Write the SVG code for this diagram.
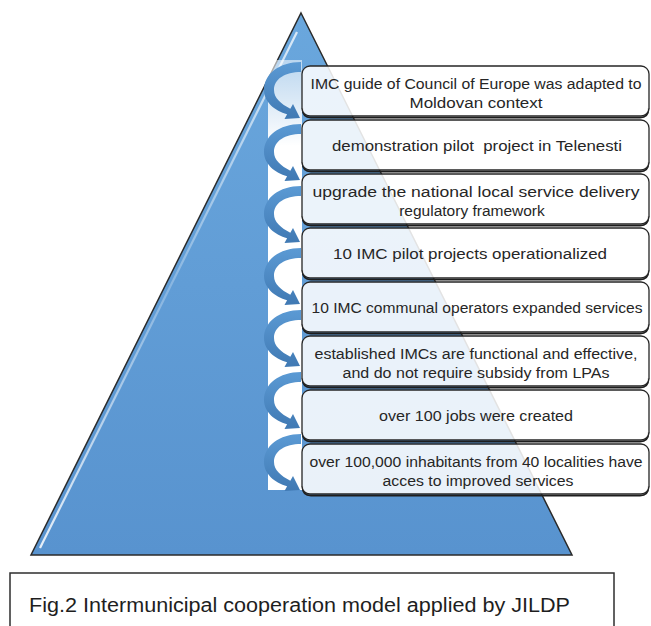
<svg xmlns="http://www.w3.org/2000/svg" width="651" height="626" viewBox="0 0 651 626">
  <defs>
    <style>
      .pyr { stroke: #2b2b2b; stroke-width: 1.5; stroke-linejoin: miter; }
      .box { fill: #ffffff; fill-opacity: 0.87; stroke: #262626; stroke-width: 1.3; }
      .shade { fill: none; stroke: #1e1e1e; stroke-width: 1.8; }
      .t { font-family: "Liberation Sans", Arial, sans-serif; font-size: 15.5px; fill: #262626; text-anchor: middle; }
      .cap { font-family: "Liberation Sans", Arial, sans-serif; font-size: 19.5px; fill: #1e1e1e; }
      .arc { fill: url(#arcFill); }
    </style>
    <linearGradient id="pyrFill" x1="0" y1="0" x2="0" y2="1">
      <stop offset="0" stop-color="#6aa7dd"/>
      <stop offset="1" stop-color="#5893cf"/>
    </linearGradient>
    <linearGradient id="hiLine" x1="0" y1="0" x2="0" y2="1">
      <stop offset="0" stop-color="#ffffff" stop-opacity="0.75"/>
      <stop offset="0.5" stop-color="#ffffff" stop-opacity="0.25"/>
      <stop offset="1" stop-color="#ffffff" stop-opacity="0.85"/>
    </linearGradient>
    <linearGradient id="strip" x1="0" y1="0" x2="0" y2="1">
      <stop offset="0" stop-color="#ffffff" stop-opacity="0.55"/>
      <stop offset="0.2" stop-color="#ffffff" stop-opacity="1"/>
      <stop offset="1" stop-color="#ffffff" stop-opacity="1"/>
    </linearGradient>
    <linearGradient id="arcFill" x1="0" y1="0" x2="0" y2="1">
      <stop offset="0" stop-color="#5b9ad4"/>
      <stop offset="1" stop-color="#4079b3"/>
    </linearGradient>
    <!-- curved arrow: band sweeps left from the top and returns right with a head -->
    <path id="arrowArc" class="arc" d="M301,0 C279,0 264,12 264,28 C264,40 275,49 287.1,52.3 L284.5,56.9 L300,56 L293,42.1 L290.3,46.7 C281,42 274,36 274,28 C274,17 285,10 301,10 Z"/>
    <!-- darker lower edge of each list box -->
    <path id="boxShade" class="shade" d="M302.5,42 Q302.5,51.6 311,51.6 H640 Q648.5,51.6 648.5,42"/>
  </defs>

  <!-- pyramid backdrop -->
  <g id="pyramid">
    <polygon class="pyr" points="301,13 572,555 31,555" fill="url(#pyrFill)"/>
    <line x1="297" y1="32" x2="40" y2="548" stroke="url(#hiLine)" stroke-width="2.2"/>
    <rect x="268" y="60" width="34" height="430" fill="url(#strip)"/>
  </g>

  <!-- list boxes -->
  <g id="node-1" transform="translate(0,66)">
    <use href="#boxShade"/>
    <rect class="box" x="302" y="0" width="347" height="50" rx="8"/>
    <text class="t" x="476" y="23" textLength="331" lengthAdjust="spacingAndGlyphs">IMC guide of Council of Europe was adapted to</text>
    <text class="t" x="476" y="42" textLength="133" lengthAdjust="spacingAndGlyphs">Moldovan context</text>
  </g>
  <g id="node-2" transform="translate(0,120)">
    <use href="#boxShade"/>
    <rect class="box" x="302" y="0" width="347" height="50" rx="8"/>
    <text class="t" x="477" y="31" textLength="290" lengthAdjust="spacingAndGlyphs" style="white-space:pre">demonstration pilot  project in Telenesti</text>
  </g>
  <g id="node-3" transform="translate(0,174)">
    <use href="#boxShade"/>
    <rect class="box" x="302" y="0" width="347" height="50" rx="8"/>
    <text class="t" x="476" y="23" textLength="327" lengthAdjust="spacingAndGlyphs">upgrade the national local service delivery</text>
    <text class="t" x="472" y="42">regulatory framework</text>
  </g>
  <g id="node-4" transform="translate(0,228)">
    <use href="#boxShade"/>
    <rect class="box" x="302" y="0" width="347" height="50" rx="8"/>
    <text class="t" x="470" y="31" textLength="274" lengthAdjust="spacingAndGlyphs">10 IMC pilot projects operationalized</text>
  </g>
  <g id="node-5" transform="translate(0,282)">
    <use href="#boxShade"/>
    <rect class="box" x="302" y="0" width="347" height="50" rx="8"/>
    <text class="t" x="477" y="31" textLength="331" lengthAdjust="spacingAndGlyphs">10 IMC communal operators expanded services</text>
  </g>
  <g id="node-6" transform="translate(0,336)">
    <use href="#boxShade"/>
    <rect class="box" x="302" y="0" width="347" height="50" rx="8"/>
    <text class="t" x="476" y="23" textLength="323" lengthAdjust="spacingAndGlyphs">established IMCs are functional and effective,</text>
    <text class="t" x="476" y="42" textLength="267" lengthAdjust="spacingAndGlyphs">and do not require subsidy from LPAs</text>
  </g>
  <g id="node-7" transform="translate(0,390)">
    <use href="#boxShade"/>
    <rect class="box" x="302" y="0" width="347" height="50" rx="8"/>
    <text class="t" x="476" y="31" textLength="194" lengthAdjust="spacingAndGlyphs">over 100 jobs were created</text>
  </g>
  <g id="node-8" transform="translate(0,444)">
    <use href="#boxShade"/>
    <rect class="box" x="302" y="0" width="347" height="50" rx="8"/>
    <text class="t" x="476" y="23" textLength="333" lengthAdjust="spacingAndGlyphs">over 100,000 inhabitants from 40 localities have</text>
    <text class="t" x="478" y="42" textLength="191" lengthAdjust="spacingAndGlyphs">acces to improved services</text>
  </g>

  <!-- curved connectors down the left side -->
  <g id="connectors">
    <use href="#arrowArc" y="62"/>
    <use href="#arrowArc" y="124"/>
    <use href="#arrowArc" y="186"/>
    <use href="#arrowArc" y="248"/>
    <use href="#arrowArc" y="310"/>
    <use href="#arrowArc" y="372"/>
    <use href="#arrowArc" y="434"/>
  </g>

  <!-- caption frame -->
  <g id="caption">
    <rect x="10" y="573" width="604" height="70" fill="#ffffff" stroke="#2e2e2e" stroke-width="1.5"/>
    <text class="cap" x="29" y="612" textLength="541" lengthAdjust="spacingAndGlyphs">Fig.2 Intermunicipal cooperation model applied by JILDP</text>
  </g>
</svg>
